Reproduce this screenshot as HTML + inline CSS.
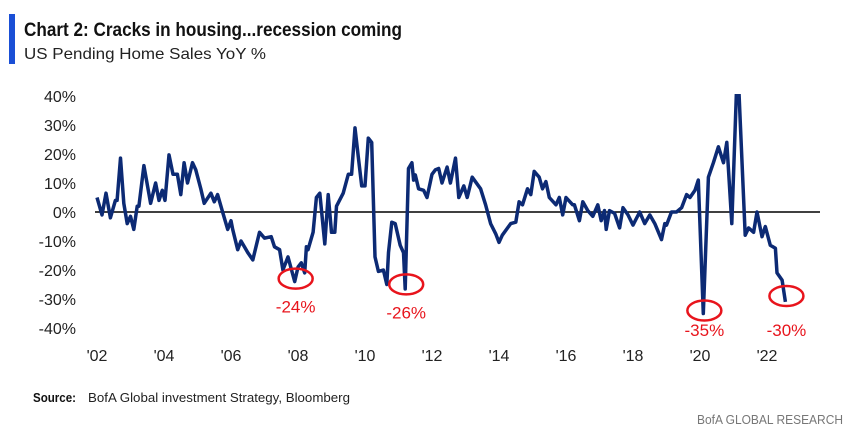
<!DOCTYPE html>
<html><head><meta charset="utf-8"><style>
body{margin:0;background:#fff;width:854px;height:434px;overflow:hidden;font-family:"Liberation Sans",sans-serif;}
</style></head><body>
<svg width="854" height="434">
<rect x="9" y="14" width="6" height="50" fill="#1a4fd6"/>
<text x="24" y="36" font-size="19" font-weight="bold" fill="#111" textLength="378" lengthAdjust="spacingAndGlyphs">Chart 2: Cracks in housing...recession coming</text>
<text x="24" y="59" font-size="16" fill="#222" textLength="242" lengthAdjust="spacingAndGlyphs">US Pending Home Sales YoY %</text>
<g id="yaxis"></g>
<g id="xaxis"></g>
<line x1="95" x2="820" y1="212" y2="212" stroke="#000" stroke-width="1.5"/>
<defs><clipPath id="cp"><rect x="80" y="94" width="760" height="260"/></clipPath></defs>
<path id="line" clip-path="url(#cp)" fill="none" stroke="#0c2a74" stroke-width="3.5" stroke-linejoin="round"/>
<g id="ann"></g>
<text x="33" y="402" font-size="13" font-weight="bold" fill="#111" textLength="43" lengthAdjust="spacingAndGlyphs">Source:</text>
<text x="88" y="402" font-size="13" fill="#222" textLength="262" lengthAdjust="spacingAndGlyphs">BofA Global investment Strategy, Bloomberg</text>
<text x="843" y="424" font-size="13" fill="#777" text-anchor="end" textLength="146" lengthAdjust="spacingAndGlyphs">BofA GLOBAL RESEARCH</text>
</svg>
<script>
const years=[2002.0,2002.15,2002.27,2002.4,2002.55,2002.6,2002.7,2002.8,2002.9,2003.0,2003.1,2003.2,2003.25,2003.4,2003.6,2003.75,2003.85,2003.95,2004.03,2004.15,2004.27,2004.4,2004.5,2004.6,2004.7,2004.85,2004.95,2005.1,2005.2,2005.4,2005.5,2005.6,2005.75,2005.9,2006.0,2006.05,2006.2,2006.3,2006.4,2006.5,2006.65,2006.85,2007.0,2007.2,2007.3,2007.45,2007.55,2007.7,2007.9,2008.0,2008.1,2008.2,2008.25,2008.3,2008.45,2008.55,2008.65,2008.8,2008.9,2009.0,2009.1,2009.15,2009.35,2009.5,2009.6,2009.7,2009.8,2009.9,2010.0,2010.1,2010.2,2010.3,2010.4,2010.55,2010.65,2010.7,2010.8,2010.9,2011.05,2011.15,2011.2,2011.3,2011.4,2011.45,2011.5,2011.6,2011.75,2011.85,2012.0,2012.1,2012.2,2012.3,2012.45,2012.55,2012.7,2012.8,2012.95,2013.05,2013.2,2013.45,2013.6,2013.75,2013.9,2014.0,2014.1,2014.35,2014.5,2014.6,2014.7,2014.85,2014.95,2015.05,2015.2,2015.3,2015.4,2015.5,2015.7,2015.8,2015.9,2016.0,2016.2,2016.25,2016.4,2016.5,2016.65,2016.8,2016.95,2017.05,2017.15,2017.2,2017.3,2017.45,2017.6,2017.7,2017.85,2018.0,2018.2,2018.35,2018.5,2018.65,2018.85,2018.95,2019.0,2019.15,2019.3,2019.45,2019.6,2019.7,2019.85,2019.95,2020.1,2020.25,2020.4,2020.55,2020.7,2020.8,2020.95,2021.1,2021.15,2021.35,2021.45,2021.6,2021.7,2021.85,2021.95,2022.1,2022.25,2022.3,2022.45,2022.55];
const values=[5,-1,6.5,-2,4,4,18.6,3,-4,-1.5,-6,2,2,16,3,10,4,7.5,4,19.7,13,13,6,17,10,17,14.5,8,3,6.5,3.5,6,0,-6,-3,-6,-13,-10,-12,-14,-16.5,-7,-9,-8.5,-12,-13,-20,-15.5,-24,-19,-17.5,-21,-12,-13,-7,5,6.5,-11,6,-7,-7,2,6.5,13,13,29,19,9,9,25.5,24,-15.5,-20.5,-20,-25,-14,-3.5,-4,-11.5,-14,-26.5,15,17,11,12.8,8,7.5,5,13,14.5,15,10,15.5,10,18.6,5,9,5,12,8,2.5,-4,-7.5,-10.5,-8,-4,-3.5,3.5,2.5,8,6,14,12,8,10.5,5,2.5,5,-1,5,2.5,2.5,-3,3.5,0.5,-1.5,2.5,-3,0.5,-6,0.5,-0.5,-5.5,1.5,-1,-4.5,0,-4,-1,-4,-9.5,-4,-4.5,0,0,1.5,6,5,7.5,11,-35,12,17,22.5,17,24,-4,45,45,-8,-5.5,-7,0,-8.5,-5,-11.5,-12.5,-21,-23.5,-31];
const yTicks=[40,30,20,10,0,-10,-20,-30,-40];
const xTicks=["'02","'04","'06","'08","'10","'12","'14","'16","'18","'20","'22"];
const xTickYears=[2002,2004,2006,2008,2010,2012,2014,2016,2018,2020,2022];
const callYears=[2007.9,2011.2,2020.1,2022.55];
const callValues=[-24,-26,-35,-30];
const callLabels=["-24%","-26%","-35%","-30%"];
const X=y=>97+(y-2002)*33.5, Y=v=>212-v*2.9;
const NS="http://www.w3.org/2000/svg";
const ya=document.getElementById('yaxis');
yTicks.forEach(t=>{const e=document.createElementNS(NS,'text');e.setAttribute('x',76);e.setAttribute('y',Y(t)+6);e.setAttribute('text-anchor','end');e.setAttribute('font-size','16');e.setAttribute('fill','#222');e.textContent=t+'%';


ya.appendChild(e);});
const xa=document.getElementById('xaxis');
xTicks.forEach((t,i)=>{const e=document.createElementNS(NS,'text');e.setAttribute('x',X(xTickYears[i]));e.setAttribute('y',361);e.setAttribute('text-anchor','middle');e.setAttribute('font-size','16');e.setAttribute('fill','#222');e.textContent=t;


xa.appendChild(e);});
document.getElementById('line').setAttribute('d',years.map((y,i)=>(i?'L':'M')+X(y).toFixed(1)+','+Y(values[i]).toFixed(1)).join(''));
const an=document.getElementById('ann');
callYears.forEach((y,i)=>{const cy=Y(callValues[i])-3;const el=document.createElementNS(NS,'ellipse');el.setAttribute('cx',X(y)+1);el.setAttribute('cy',cy);el.setAttribute('rx',17);el.setAttribute('ry',10);el.setAttribute('fill','none');el.setAttribute('stroke','#e8141c');el.setAttribute('stroke-width','2.5');


an.appendChild(el);
const ly=Math.max(cy+34,336);
const t=document.createElementNS(NS,'text');t.setAttribute('x',X(y)+1);t.setAttribute('y',i<2?cy+34:336);t.setAttribute('text-anchor','middle');t.setAttribute('font-size','17');t.setAttribute('fill','#e8141c');t.textContent=callLabels[i];


an.appendChild(t);});
</script>
</body></html>
